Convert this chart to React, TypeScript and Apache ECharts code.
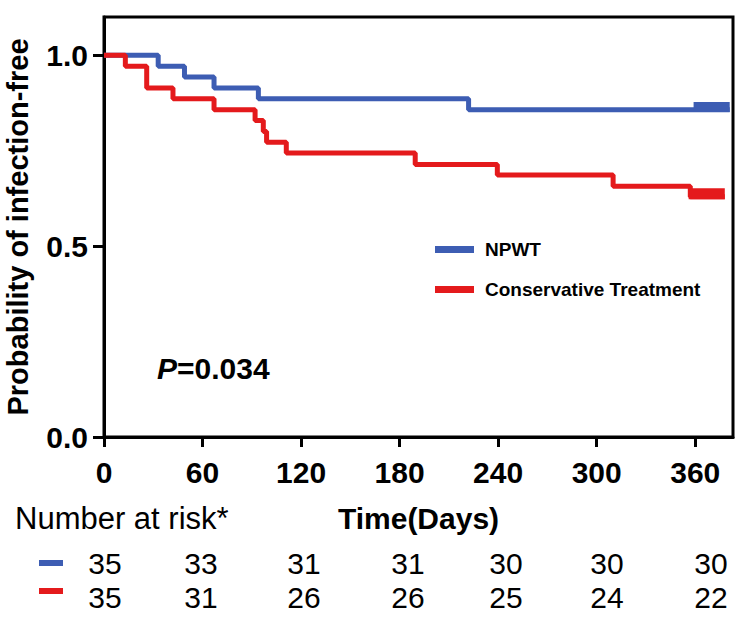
import React, { useEffect, useRef } from "react";
import * as echarts from "echarts";

// ---- data ----
const seriesNames = ["NPWT", "Conservative Treatment"];
const xTicks = [0, 60, 120, 180, 240, 300, 360];
const yTicks = [0, 0.5, 1.0];
// Kaplan-Meier step points [day, survival]
const npwtCurve = [
  [0, 1.0], [33, 0.971], [49, 0.943], [67, 0.914], [94, 0.886], [222, 0.857], [381, 0.857],
];
const consCurve = [
  [0, 1.0], [13, 0.971], [26, 0.914], [42, 0.886], [67, 0.857], [92, 0.829], [97, 0.8],
  [99, 0.772], [111, 0.744], [189.5, 0.714], [239.5, 0.686], [310, 0.657], [357, 0.629], [378, 0.629],
];
// dense censor ticks at the end of follow-up
const npwtCensor = [[359, 0.864], [381, 0.864]];
const consCensor = [[356, 0.637], [378, 0.637]];
const npwtAtRisk = [35, 33, 31, 31, 30, 30, 30];
const consAtRisk = [35, 31, 26, 26, 25, 24, 22];
const pValue = "0.034";

// ---- style / layout ----
const BLUE = "#3D5DB3";
const RED = "#E41A1C";
const FONT = '"Liberation Sans", Arial, Helvetica, sans-serif';
const riskColX = [105, 201, 304, 408, 506, 607, 711];

export default function App() {
  const ref = useRef<HTMLDivElement>(null);
  useEffect(() => {
    if (!ref.current) return;
    const chart = echarts.init(ref.current, null, { renderer: "svg" });
    const rowText = (vals: number[], y: number) =>
      vals.map((v, i) => ({
        type: "text",
        x: riskColX[i],
        y,
        style: {
          text: String(v),
          font: `30px ${FONT}`,
          fill: "#000",
          align: "center",
          verticalAlign: "middle",
        },
      }));
    chart.setOption({
      animation: false,
      backgroundColor: "#fff",
      grid: { left: 104, right: 11, top: 17, bottom: 182, show: true, borderColor: "#000", borderWidth: 3, outerBoundsMode: "none" },
      xAxis: {
        type: "value",
        min: 0,
        max: 383,
        interval: 60,
        name: "Time(Days)",
        nameLocation: "middle",
        nameGap: 66,
        nameTextStyle: { fontFamily: FONT, fontWeight: "bold", fontSize: 30, color: "#000" },
        splitLine: { show: false },
        axisLine: { lineStyle: { color: "#000", width: 3 } },
        axisTick: { length: 10, lineStyle: { color: "#000", width: 3 }, customValues: xTicks },
        axisLabel: { customValues: xTicks, margin: 20, fontFamily: FONT, fontWeight: "bold", fontSize: 30, color: "#000" },
      },
      yAxis: {
        type: "value",
        min: 0,
        max: 1.1,
        interval: 0.5,
        name: "Probability of infection-free",
        nameLocation: "middle",
        nameRotate: 90,
        nameGap: 72,
        nameTextStyle: { fontFamily: FONT, fontWeight: "bold", fontSize: 29, color: "#000" },
        splitLine: { show: false },
        axisLine: { lineStyle: { color: "#000", width: 3 } },
        axisTick: { length: 11, lineStyle: { color: "#000", width: 3 }, customValues: yTicks },
        axisLabel: {
          customValues: yTicks,
          margin: 16,
          formatter: (v: number) => v.toFixed(1),
          fontFamily: FONT,
          fontWeight: "bold",
          fontSize: 30,
          color: "#000",
        },
      },
      legend: {
        data: seriesNames,
        orient: "vertical",
        left: 430,
        top: 235,
        icon: "rect",
        itemWidth: 39,
        itemHeight: 7,
        itemGap: 21,
        textStyle: { fontFamily: FONT, fontWeight: "bold", fontSize: 19, color: "#000", padding: [0, 0, 0, 6] },
      },
      series: [
        {
          name: seriesNames[0],
          type: "line",
          step: "end",
          data: npwtCurve,
          showSymbol: false,
          color: BLUE,
          lineStyle: { color: BLUE, width: 5 },
          z: 3,
        },
        {
          name: seriesNames[1],
          type: "line",
          step: "end",
          data: consCurve,
          showSymbol: false,
          color: RED,
          lineStyle: { color: RED, width: 5 },
          z: 3,
        },
        {
          type: "line",
          data: npwtCensor,
          showSymbol: false,
          silent: true,
          lineStyle: { color: BLUE, width: 10 },
          z: 3,
        },
        {
          type: "line",
          data: consCensor,
          showSymbol: false,
          silent: true,
          lineStyle: { color: RED, width: 11 },
          z: 3,
        },
      ],
      graphic: [
        {
          type: "text",
          x: 157,
          y: 368,
          style: {
            text: `{i|P}{b|=${pValue}}`,
            verticalAlign: "middle",
            rich: {
              i: { fontFamily: FONT, fontStyle: "italic", fontWeight: "bold", fontSize: 30, fill: "#000" },
              b: { fontFamily: FONT, fontWeight: "bold", fontSize: 30, fill: "#000" },
            },
          },
        },
        {
          type: "text",
          x: 15,
          y: 518,
          style: { text: "Number at risk*", font: `31px ${FONT}`, fill: "#000", verticalAlign: "middle" },
        },
        { type: "rect", shape: { x: 39, y: 560, width: 24, height: 6 }, style: { fill: BLUE } },
        { type: "rect", shape: { x: 39, y: 588, width: 24, height: 6 }, style: { fill: RED } },
        ...rowText(npwtAtRisk, 563),
        ...rowText(consAtRisk, 597),
      ],
    });
    return () => chart.dispose();
  }, []);
  return <div ref={ref} style={{ position: "fixed", left: 0, top: 0, width: 744, height: 619 }} />;
}
